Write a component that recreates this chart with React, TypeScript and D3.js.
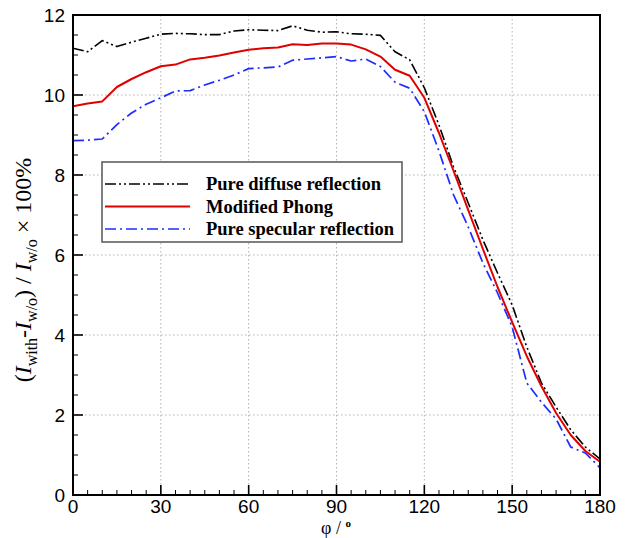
import React from "react";
import * as d3 from "d3";

const phi = [0, 5, 10, 15, 20, 25, 30, 35, 40, 45, 50, 55, 60, 65, 70, 75, 80, 85, 90, 95, 100, 105, 110, 115, 120, 125, 130, 135, 140, 145, 150, 155, 160, 165, 170, 175, 180];

const diffuse = [11.17, 11.08, 11.36, 11.21, 11.32, 11.42, 11.52, 11.54, 11.53, 11.51, 11.51, 11.6, 11.63, 11.62, 11.61, 11.73, 11.62, 11.57, 11.58, 11.53, 11.52, 11.49, 11.08, 10.88, 10.18, 9.25, 8.2, 7.3, 6.38, 5.55, 4.75, 3.7, 2.8, 2.2, 1.63, 1.2, 0.9];

const phong = [9.72, 9.79, 9.84, 10.2, 10.4, 10.57, 10.72, 10.76, 10.89, 10.93, 10.99, 11.06, 11.13, 11.17, 11.19, 11.27, 11.25, 11.29, 11.29, 11.26, 11.14, 10.96, 10.63, 10.48, 9.93, 9.05, 8.1, 7.12, 6.15, 5.2, 4.32, 3.47, 2.72, 2.05, 1.5, 1.1, 0.83];

const specular = [8.86, 8.87, 8.9, 9.26, 9.55, 9.77, 9.93, 10.1, 10.11, 10.25, 10.37, 10.5, 10.66, 10.68, 10.7, 10.87, 10.9, 10.93, 10.96, 10.85, 10.9, 10.71, 10.32, 10.17, 9.58, 8.6, 7.5, 6.7, 5.8, 5.05, 4.2, 2.8, 2.32, 1.9, 1.2, 1.05, 0.68];

const xTicks = [0, 30, 60, 90, 120, 150, 180];
const yTicks = [0, 2, 4, 6, 8, 10, 12];

const legendLabels = ["Pure diffuse reflection", "Modified Phong", "Pure specular reflection"];

const series = [
  { name: legendLabels[0], values: diffuse, color: "#000000", dash: "11,3,2,3,2,3", width: 1.6 },
  { name: legendLabels[1], values: phong, color: "#e00000", dash: "none", width: 2 },
  { name: legendLabels[2], values: specular, color: "#1f2cff", dash: "11,4,2,4", width: 1.7 },
];

const SERIF = "'Liberation Serif', 'Times New Roman', serif";
const SANS = "'Liberation Sans', Arial, sans-serif";

export default function App() {
  const W = 627;
  const H = 538;
  const left = 73, right = 600, top = 15, bottom = 495;
  const x = d3.scaleLinear().domain([0, 180]).range([left, right]);
  const y = d3.scaleLinear().domain([0, 12]).range([bottom, top]);

  const xMinor = d3.range(0, 181, 5);
  const yMinor = d3.range(0, 12.01, 0.5);

  const line = (vals: number[]) =>
    d3.line<number>().x((_, i) => x(phi[i])).y((d) => y(d))(vals) || "";

  const legX = 102, legY = 162, legW = 300, legH = 80;
  const rowY = [184, 206.5, 229];

  return (
    <svg width={W} height={H} style={{ position: "absolute", left: 0, top: 0, background: "#fff" }}>
      <rect x={0} y={0} width={W} height={H} fill="#fff" />
      {/* grid */}
      {xTicks.filter((t) => t > 0 && t < 180).map((t) => (
        <line key={"gx" + t} x1={x(t)} x2={x(t)} y1={top} y2={bottom} stroke="#b0b0b0" strokeWidth={1} strokeDasharray="1.5,2.5" />
      ))}
      {yTicks.filter((t) => t > 0 && t < 12).map((t) => (
        <line key={"gy" + t} x1={left} x2={right} y1={y(t)} y2={y(t)} stroke="#b0b0b0" strokeWidth={1} strokeDasharray="1.5,2.5" />
      ))}
      {/* ticks */}
      {xMinor.map((t) => (
        <line key={"mx" + t} x1={x(t)} x2={x(t)} y1={bottom} y2={bottom - (t % 30 === 0 ? 10 : 5)} stroke="#000" strokeWidth={t % 30 === 0 ? 1.6 : 1} />
      ))}
      {yMinor.map((t) => (
        <line key={"my" + t} x1={left} x2={left + (t % 2 === 0 ? 10 : 5)} y1={y(t)} y2={y(t)} stroke="#000" strokeWidth={t % 2 === 0 ? 1.6 : 1} />
      ))}
      {/* series */}
      {series.map((s) => (
        <path key={s.name} d={line(s.values)} fill="none" stroke={s.color} strokeWidth={s.width} strokeDasharray={s.dash} strokeLinejoin="round" />
      ))}
      {/* frame */}
      <rect x={left} y={top} width={right - left} height={bottom - top} fill="none" stroke="#000" strokeWidth={2} />
      {/* tick labels */}
      {xTicks.map((t) => (
        <text key={"xl" + t} x={x(t)} y={bottom + 18} textAnchor="middle" fontFamily={SANS} fontSize={19} fill="#000">{t}</text>
      ))}
      {yTicks.map((t) => (
        <text key={"yl" + t} x={left - 8} y={y(t) + 7} textAnchor="end" fontFamily={SANS} fontSize={19} fill="#000">{t}</text>
      ))}
      {/* axis titles */}
      <text x={336} y={534} textAnchor="middle" fontFamily={SERIF} fontSize={18} fill="#000">
        φ / <tspan fontSize={11} fontWeight="bold" dy={-7}>o</tspan>
      </text>
      <text transform={`translate(31, 270) rotate(-90)`} textAnchor="middle" fontFamily={SERIF} fontSize={24} fill="#000">
        (<tspan fontStyle="italic">I</tspan>
        <tspan fontSize={16} dy={6}>with</tspan>
        <tspan dy={-6}>-</tspan>
        <tspan fontStyle="italic">I</tspan>
        <tspan fontSize={16} dy={6}>w/o</tspan>
        <tspan dy={-6}>) / </tspan>
        <tspan fontStyle="italic">I</tspan>
        <tspan fontSize={16} dy={6}>w/o</tspan>
        <tspan dy={-6}> × 100%</tspan>
      </text>
      {/* legend */}
      <rect x={legX} y={legY} width={legW} height={legH} fill="#fff" stroke="#555" strokeWidth={1.5} />
      {series.map((s, i) => (
        <g key={"leg" + i}>
          <line x1={105} x2={190} y1={rowY[i]} y2={rowY[i]} stroke={s.color} strokeWidth={s.width} strokeDasharray={s.dash} />
          <text x={206} y={rowY[i] + 6} fontFamily={SERIF} fontWeight="bold" fontSize={18.5} fill="#000">{s.name}</text>
        </g>
      ))}
    </svg>
  );
}
